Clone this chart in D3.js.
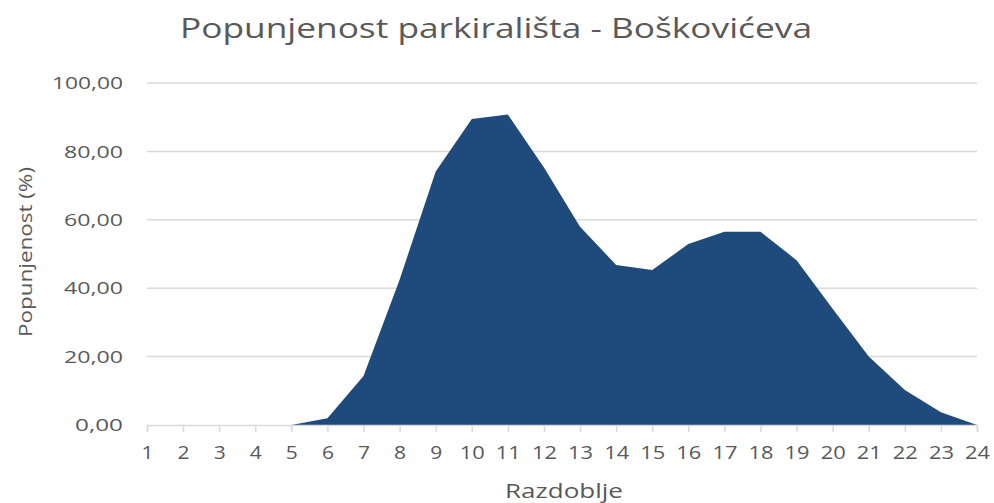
<!DOCTYPE html>
<html>
<head>
<meta charset="utf-8">
<script src="https://cdn.jsdelivr.net/npm/d3@7"></script>
<style>
  body { margin: 0; background: #fff; }
  svg text { fill: #595959; font-family: "Open Sans", sans-serif; }
</style>
</head>
<body>
<svg id="chart" width="994" height="503"></svg>
<script>
// periods and occupancy (%)
var periods = d3.range(1, 25);
var occupancy = [0, 0, 0, 0, 0, 2.0, 14.3, 42.5, 74.1, 89.5, 90.8, 75.3, 58.0, 46.8, 45.3, 52.9, 56.5, 56.5, 48.2, 34.0, 20.0, 10.2, 3.7, 0];
var yTicks = [0, 20, 40, 60, 80, 100];

(function() {
    var svg = d3.select("#chart");
    var pLeft = 147, pRight = 977, pTop = 83, pBottom = 425;

    var x = d3.scaleLinear().domain([1, 24]).range([pLeft, pRight]);
    var y = d3.scaleLinear().domain([0, 100]).range([pBottom, pTop]);

    var fmt = function(v) { return d3.format(".2f")(v).replace(".", ","); };

    // gridlines
    svg.append("g").selectAll("line").data(yTicks.slice(1)).enter().append("line")
        .attr("x1", pLeft).attr("x2", pRight)
        .attr("y1", function(d) { return y(d); }).attr("y2", function(d) { return y(d); })
        .attr("stroke", "#d9d9d9").attr("stroke-width", 1.5);

    // area
    var data = periods.map(function(p, i) { return { p: p, v: occupancy[i] }; });
    var area = d3.area()
        .x(function(d) { return x(d.p); })
        .y0(y(0))
        .y1(function(d) { return y(d.v); });
    svg.append("path").datum(data).attr("d", area).attr("fill", "#1f4a7c");

    // x axis
    var xAxis = svg.append("g").attr("transform", "translate(0," + pBottom + ")")
        .call(d3.axisBottom(x).tickValues(periods).tickSize(7).tickPadding(14).tickFormat(d3.format("d")));
    xAxis.select(".domain").attr("stroke", "#d9d9d9").attr("stroke-width", 1.5);
    xAxis.selectAll(".tick line").attr("stroke", "#d9d9d9").attr("stroke-width", 1.5);
    xAxis.selectAll("text")
        .attr("font-family", "Open Sans, sans-serif").attr("font-size", 19)
        .attr("textLength", function(d) { return d < 10 ? 12 : 25; })
        .attr("lengthAdjust", "spacingAndGlyphs")
        .style("fill", "#595959");

    // y labels
    svg.append("g").selectAll("text").data(yTicks).enter().append("text")
        .attr("x", 123).attr("y", function(d) { return y(d); })
        .attr("dy", "0.36em").attr("text-anchor", "end")
        .attr("font-size", 17)
        .attr("textLength", function(d) { return d === 100 ? 71 : d === 0 ? 48 : 59; })
        .attr("lengthAdjust", "spacingAndGlyphs")
        .text(fmt);

    // titles
    svg.append("text").attr("x", 496).attr("y", 38).attr("text-anchor", "middle")
        .attr("font-size", 28)
        .attr("textLength", 632).attr("lengthAdjust", "spacingAndGlyphs")
        .text("Popunjenost parkirališta - Boškovićeva");

    svg.append("text").attr("transform", "translate(32,252) rotate(-90)")
        .attr("text-anchor", "middle")
        .attr("font-size", 19)
        .attr("textLength", 170).attr("lengthAdjust", "spacingAndGlyphs")
        .text("Popunjenost (%)");

    svg.append("text").attr("x", 564).attr("y", 498).attr("text-anchor", "middle")
        .attr("font-size", 20)
        .attr("textLength", 118).attr("lengthAdjust", "spacingAndGlyphs")
        .text("Razdoblje");
})();
</script>
</body>
</html>
